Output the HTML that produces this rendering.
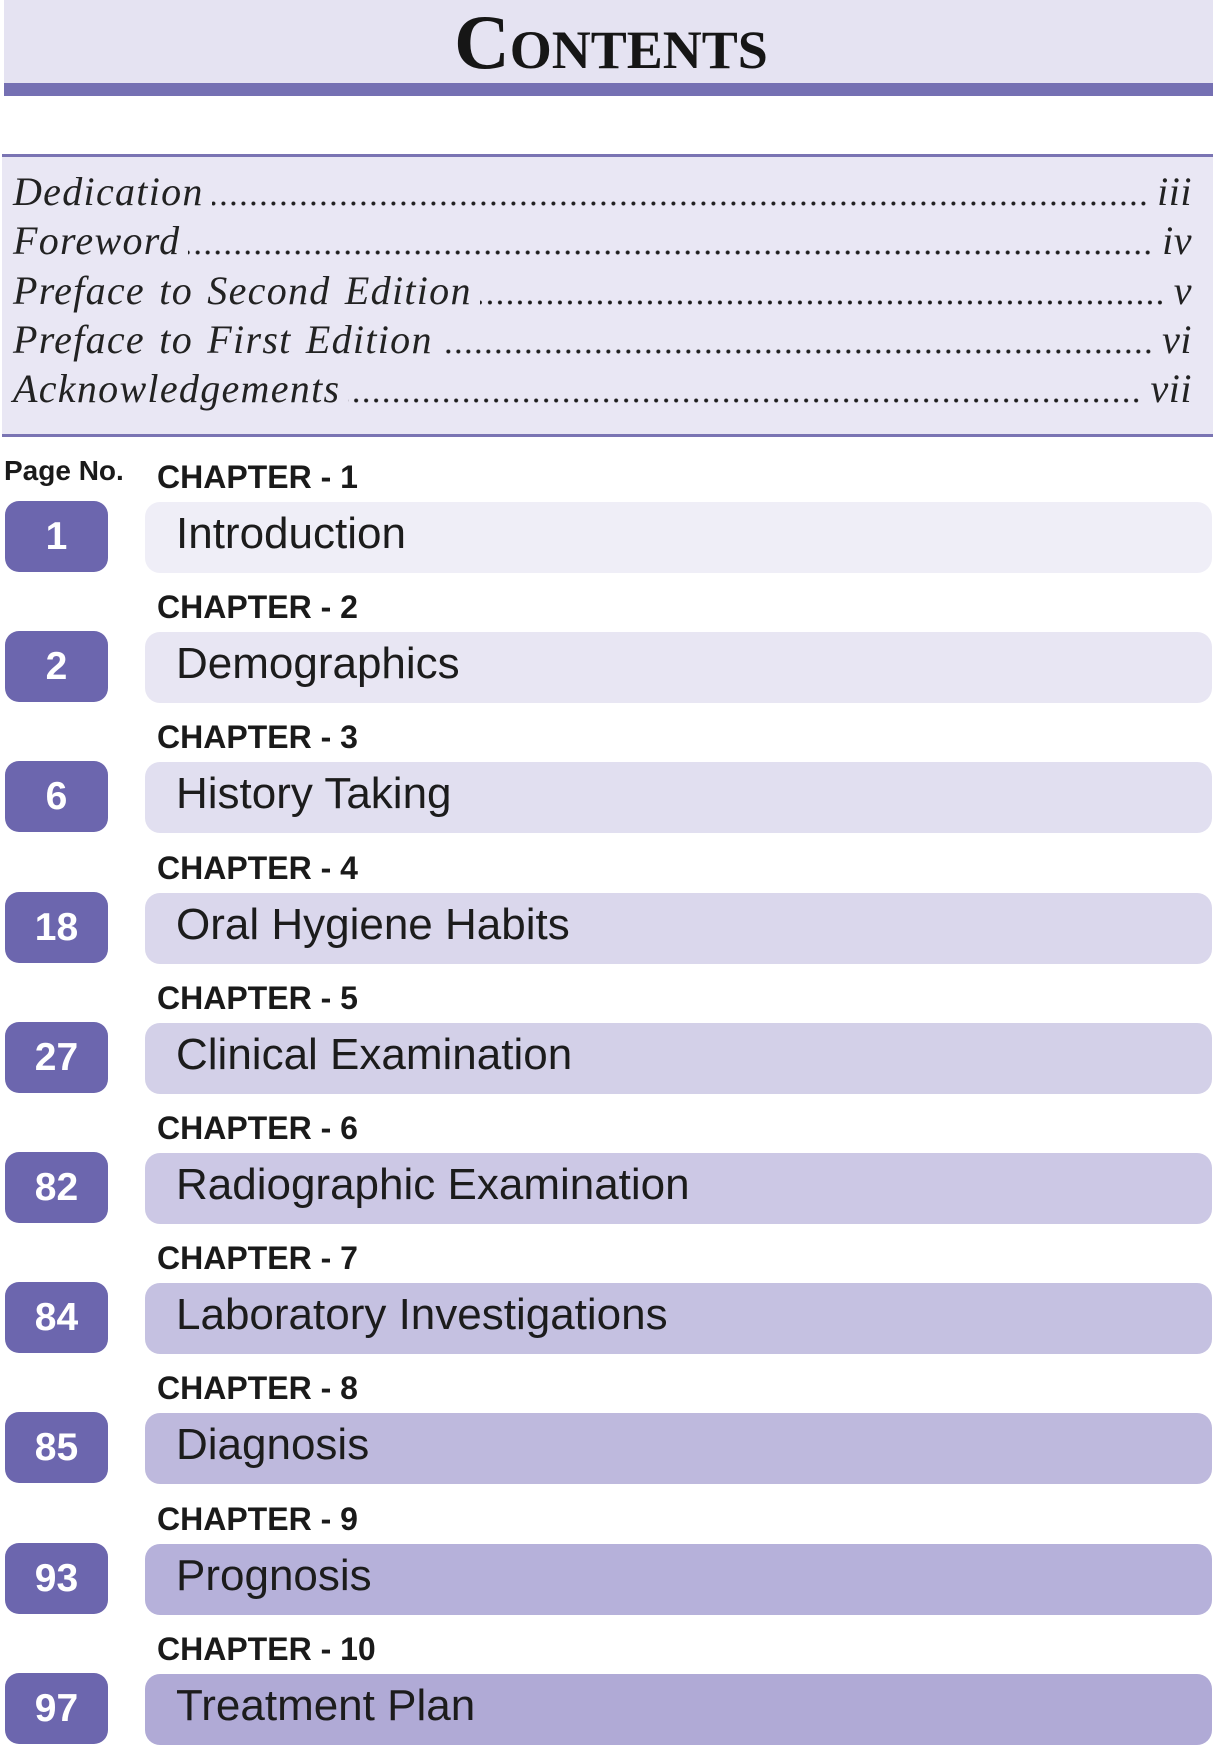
<!DOCTYPE html>
<html>
<head>
<meta charset="utf-8">
<style>
  html, body { margin:0; padding:0; }
  body { width:1214px; height:1746px; position:relative; background:#ffffff; overflow:hidden; }
  .abs { position:absolute; }
  .hdr { left:4px; top:0; width:1209px; height:83px; background:#e5e3f2; }
  .hbar { left:4px; top:83px; width:1209px; height:13px; background:#7570b3; }
  .title { left:4px; top:4px; width:1214px; text-align:center; font-family:"Liberation Serif", serif; font-weight:bold; font-size:77px; line-height:77px; font-variant:small-caps; color:#161616; letter-spacing:0px; }
  .fbox { left:2px; top:154px; width:1211px; height:283px; background:#e9e7f4; border-top:3px solid #7a74b3; border-bottom:3px solid #7a74b3; box-sizing:border-box; }
  .row { position:absolute; left:13px; width:1179px; height:40px; display:flex; font-family:"Liberation Serif", serif; font-style:italic; font-size:40px; line-height:40px; color:#222; }
  .row .lab { letter-spacing:1.3px; word-spacing:3px; white-space:nowrap; }
  .row .lead { flex:1; margin:0 9px 0 8px; background-image:radial-gradient(circle at 5px 31.5px, #1e1e1e 1.7px, rgba(0,0,0,0) 2.3px); background-size:10px 40px; background-repeat:repeat-x; background-position:right top; }
  .row .pg { white-space:nowrap; letter-spacing:0.5px; }
  .pno { left:4px; top:457px; font-family:"Liberation Sans", sans-serif; font-weight:bold; font-size:28px; line-height:28px; color:#1a1a1a; }
  .ch { position:absolute; left:157px; font-family:"Liberation Sans", sans-serif; font-weight:bold; font-size:32px; line-height:32px; color:#1a1a1a; white-space:nowrap; }
  .nb { position:absolute; left:5px; width:103px; height:71px; border-radius:14px; background:#6c66ae; color:#fff; text-align:center; font-family:"Liberation Sans", sans-serif; font-weight:bold; font-size:39px; line-height:71px; }
  .bar { position:absolute; left:145px; width:1067px; height:71px; border-radius:15px; font-family:"Liberation Sans", sans-serif; font-size:44px; line-height:64.5px; color:#1c1c1c; box-sizing:border-box; padding-left:31px; white-space:nowrap; }
</style>
</head>
<body>
  <div class="abs hdr"></div>
  <div class="abs hbar"></div>
  <div class="abs title">Contents</div>

  <div class="abs fbox"></div>
  <div class="row" style="top:172px;"><span class="lab">Dedication</span><span class="lead"></span><span class="pg">iii</span></div>
  <div class="row" style="top:221px;"><span class="lab">Foreword</span><span class="lead"></span><span class="pg">iv</span></div>
  <div class="row" style="top:271px;"><span class="lab">Preface to Second Edition</span><span class="lead"></span><span class="pg">v</span></div>
  <div class="row" style="top:320px;"><span class="lab">Preface to First Edition</span><span class="lead"></span><span class="pg">vi</span></div>
  <div class="row" style="top:369px;"><span class="lab">Acknowledgements</span><span class="lead"></span><span class="pg">vii</span></div>

  <div class="abs pno">Page No.</div>

  <div class="ch" style="top:461px;">CHAPTER - 1</div>
  <div class="nb" style="top:501px;">1</div>
  <div class="bar" style="top:502px;background:#efeef7;">Introduction</div>

  <div class="ch" style="top:591px;">CHAPTER - 2</div>
  <div class="nb" style="top:631px;">2</div>
  <div class="bar" style="top:632px;background:#e8e6f3;">Demographics</div>

  <div class="ch" style="top:721px;">CHAPTER - 3</div>
  <div class="nb" style="top:761px;">6</div>
  <div class="bar" style="top:762px;background:#e1dff0;">History Taking</div>

  <div class="ch" style="top:852px;">CHAPTER - 4</div>
  <div class="nb" style="top:892px;">18</div>
  <div class="bar" style="top:893px;background:#dad7ec;">Oral Hygiene Habits</div>

  <div class="ch" style="top:982px;">CHAPTER - 5</div>
  <div class="nb" style="top:1022px;">27</div>
  <div class="bar" style="top:1023px;background:#d3d0e8;">Clinical Examination</div>

  <div class="ch" style="top:1112px;">CHAPTER - 6</div>
  <div class="nb" style="top:1152px;">82</div>
  <div class="bar" style="top:1153px;background:#ccc8e5;">Radiographic Examination</div>

  <div class="ch" style="top:1242px;">CHAPTER - 7</div>
  <div class="nb" style="top:1282px;">84</div>
  <div class="bar" style="top:1283px;background:#c5c1e1;">Laboratory Investigations</div>

  <div class="ch" style="top:1372px;">CHAPTER - 8</div>
  <div class="nb" style="top:1412px;">85</div>
  <div class="bar" style="top:1413px;background:#beb9dd;">Diagnosis</div>

  <div class="ch" style="top:1503px;">CHAPTER - 9</div>
  <div class="nb" style="top:1543px;">93</div>
  <div class="bar" style="top:1544px;background:#b6b1da;">Prognosis</div>

  <div class="ch" style="top:1633px;">CHAPTER - 10</div>
  <div class="nb" style="top:1673px;">97</div>
  <div class="bar" style="top:1674px;background:#b0aad6;">Treatment Plan</div>
</body>
</html>
